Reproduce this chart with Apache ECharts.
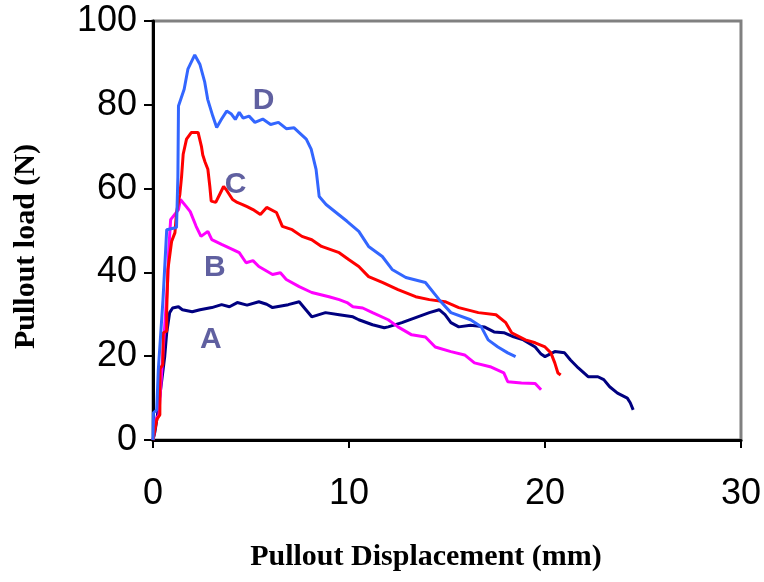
<!DOCTYPE html>
<html>
<head>
<meta charset="utf-8">
<script src="https://cdn.jsdelivr.net/npm/echarts@6/dist/echarts.min.js"></script>
<style>
  html, body { margin: 0; padding: 0; background: #fff; }
  #main { width: 764px; height: 582px; }
</style>
</head>
<body>
<div id="main"></div>
<script>
// 曲线数据 [位移mm, 拉拔力N]
let seriesA = [[0,0],[0.1,2],[0.2,5],[0.3,5],[0.6,20],[0.7,25.6],[0.85,30.4],[1.0,31.5],[1.3,31.8],[1.5,31.1],[2.0,30.6],[2.4,31.1],[3.0,31.6],[3.5,32.3],[3.9,31.8],[4.3,32.8],[4.8,32.2],[5.4,33],[5.8,32.4],[6.1,31.6],[6.9,32.3],[7.46,33],[7.8,31.1],[8.1,29.4],[8.8,30.4],[9.5,29.9],[10.2,29.4],[10.5,28.7],[11.2,27.5],[11.8,26.8],[12.0,27],[12.7,28],[13.4,29.2],[14.1,30.4],[14.6,31.1],[14.9,29.9],[15.2,28],[15.6,27],[16.2,27.4],[16.9,27],[17.4,25.8],[17.9,25.6],[18.4,24.6],[18.9,23.9],[19.5,22.2],[19.8,20.5],[20.0,19.9],[20.5,21.1],[21.0,20.8],[21.3,19.1],[21.7,17.2],[22.2,15.1],[22.7,15.1],[23.0,14.4],[23.3,12.7],[23.7,11.2],[24.2,10],[24.35,8.9],[24.5,7.2]]
let seriesB = [[0,0],[0.15,5],[0.3,6],[0.5,20],[0.75,38],[0.8,45],[0.9,52.6],[1.3,55],[1.4,57.4],[1.5,57],[1.7,55.7],[1.9,54.5],[2.2,51],[2.45,48.6],[2.8,49.8],[3.0,47.8],[3.5,46.7],[4.05,45.5],[4.4,44.7],[4.75,42.3],[5.1,42.8],[5.4,41.4],[6.1,39.5],[6.5,39.9],[6.8,38.3],[7.46,36.6],[8.1,35.2],[8.98,34.2],[9.5,33.5],[9.9,32.8],[10.2,31.8],[10.7,31.5],[11.2,30.4],[12.0,28.7],[12.5,27],[13.2,25.1],[13.9,24.6],[14.4,22.2],[15.2,21.1],[15.9,20.3],[16.4,18.4],[17.2,17.5],[17.9,16],[18.1,13.9],[18.8,13.6],[19.5,13.5],[19.8,12]]
let seriesC = [[0,0],[0.2,5],[0.35,6],[0.36,17],[0.5,18],[0.52,25.6],[0.7,26],[0.7,31],[0.76,40.7],[0.95,47.4],[1.12,49.5],[1.2,54.3],[1.37,58.6],[1.46,63],[1.54,68.2],[1.71,71.8],[1.96,73.4],[2.3,73.4],[2.47,70.1],[2.54,68],[2.66,66.3],[2.8,64.6],[2.9,60.5],[2.97,57],[3.2,56.7],[3.4,58.6],[3.6,60.5],[3.73,59.8],[4.06,57.4],[4.3,56.7],[4.57,56.2],[4.8,55.7],[5.1,55],[5.48,53.8],[5.8,55.5],[6.3,54.3],[6.6,51],[7.1,50.2],[7.6,48.6],[8.1,47.8],[8.6,46.2],[9.5,44.7],[10.0,43],[10.5,41.4],[11.0,39],[11.7,37.6],[12.5,35.9],[13.4,34.2],[14.1,33.5],[14.9,33],[15.6,31.6],[16.6,30.4],[17.5,29.9],[18.0,28],[18.3,25.6],[19.0,23.9],[19.5,23.2],[20.0,22.2],[20.3,20.8],[20.5,18.4],[20.66,16],[20.8,15.5]]
let seriesD = [[0,0],[0.02,6.5],[0.19,7.2],[0.27,16.7],[0.51,33.5],[0.61,42.3],[0.7,50.2],[1.2,50.7],[1.27,62.9],[1.3,79.7],[1.59,83.7],[1.78,88.5],[2.13,91.9],[2.39,89.7],[2.64,85.4],[2.79,81.3],[3.05,77.3],[3.25,74.6],[3.5,76.6],[3.76,78.5],[4.0,77.8],[4.2,76.5],[4.4,78.2],[4.6,76.8],[4.9,77.3],[5.2,75.8],[5.6,76.6],[6.0,75.3],[6.4,75.8],[6.8,74.3],[7.2,74.5],[7.5,73.2],[7.82,71.8],[8.07,69.4],[8.32,64.6],[8.48,58.1],[8.83,56.2],[9.34,54.3],[9.9,52.2],[10.5,49.8],[11.0,46.2],[11.7,43.8],[12.2,40.7],[12.9,38.8],[13.9,37.6],[14.6,33.5],[15.2,30.4],[16.2,28.7],[16.75,27],[17.1,23.9],[17.6,22.2],[18.1,20.8],[18.5,19.9]]
let seriesNames = ['A','B','C','D']
let seriesColors = ['#000080','#FF00FF','#FF0000','#3366FF']
// 曲线标注位置
let labelPos = [[2.95,23.9],[3.15,41.1],[4.21,61],[5.64,80.9]]
// 刻度
let xTicks = {min:0, max:30, interval:10}
let yTicks = {min:0, max:100, interval:20}

let allData = [seriesA, seriesB, seriesC, seriesD]
let series = []
allData.forEach((d, i) => {
    series.push({
        name: seriesNames[i],
        type: 'line',
        data: d,
        symbol: 'none',
        lineStyle: {color: seriesColors[i], width: 3},
        z: 2 + i
    })
})
series.push({
    type: 'scatter',
    symbolSize: 0,
    data: labelPos.map((p, i) => ({value: p, name: seriesNames[i]})),
    label: {
        show: true,
        position: 'inside',
        formatter: p => p.name,
        color: '#383888',
        fontFamily: 'Arial, Liberation Sans',
        fontWeight: 'bold',
        fontSize: 30
    },
    z: 10
})

let myChart = echarts.init(document.getElementById('main'))
let option = {
    animation: false,
    grid: {
        left: 153, right: 20, top: 21, bottom: 142,
        show: true, borderColor: '#808080', borderWidth: 3
    },
    xAxis: {
        type: 'value',
        min: xTicks.min, max: xTicks.max, interval: xTicks.interval,
        name: 'Pullout Displacement (mm)',
        nameLocation: 'middle',
        nameGap: 102,
        nameTextStyle: {fontFamily: 'Liberation Serif', fontWeight: 'bold', fontSize: 30, color: '#000', padding: [0, 42, 0, 0]},
        axisLine: {onZero: false, lineStyle: {color: '#000', width: 3}},
        axisTick: {inside: false, length: 8, lineStyle: {color: '#000', width: 2}},
        axisLabel: {margin: 36, fontFamily: 'Arial, Liberation Sans', fontSize: 36, color: '#000'},
        splitLine: {show: false}
    },
    yAxis: {
        type: 'value',
        min: yTicks.min, max: yTicks.max, interval: yTicks.interval,
        name: 'Pullout load (N)',
        nameLocation: 'middle',
        nameGap: 112,
        nameTextStyle: {fontFamily: 'Liberation Serif', fontWeight: 'bold', fontSize: 30, color: '#000', padding: [0, 32, 0, 0]},
        axisLine: {onZero: false, lineStyle: {color: '#000', width: 3}},
        axisTick: {inside: false, length: 9, lineStyle: {color: '#000', width: 2}},
        axisLabel: {margin: 16, fontFamily: 'Arial, Liberation Sans', fontSize: 36, color: '#000'},
        splitLine: {show: false}
    },
    series: series
}
myChart.setOption(option)
</script>
</body>
</html>
